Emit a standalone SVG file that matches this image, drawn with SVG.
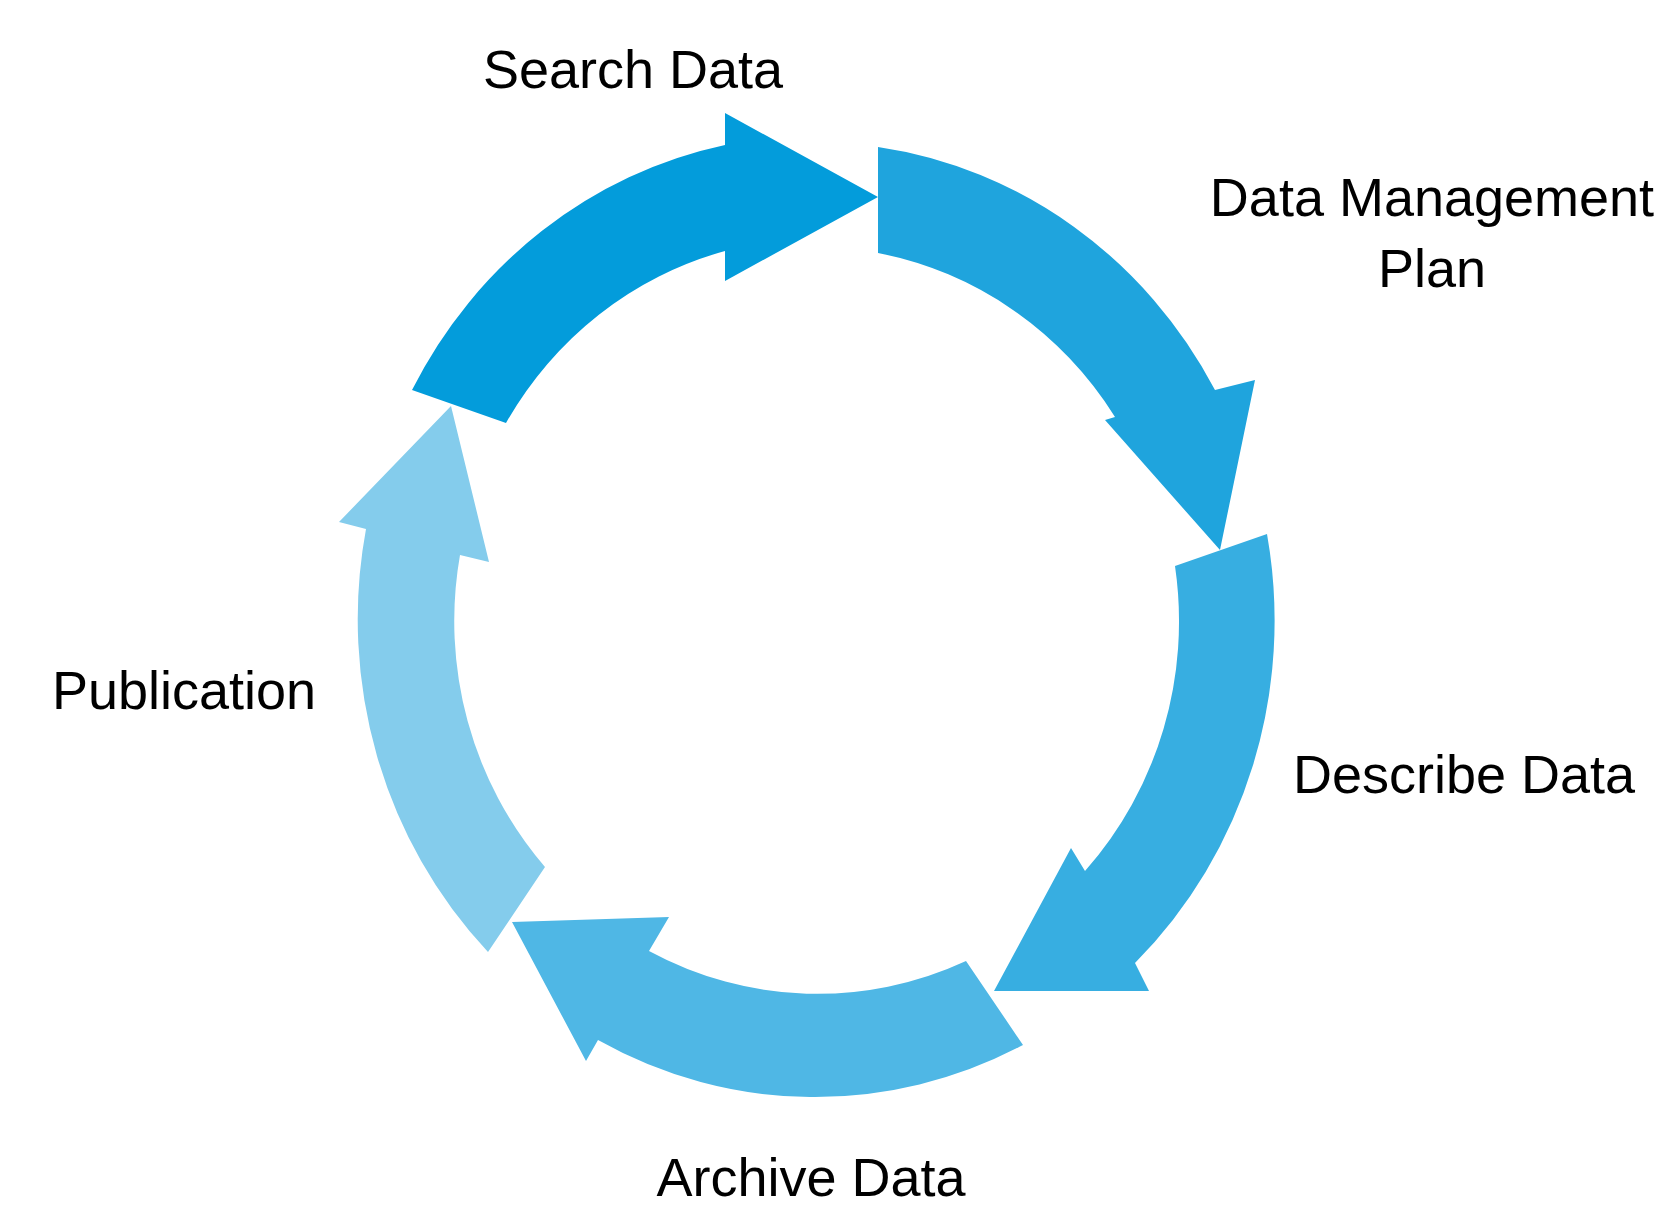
<svg xmlns="http://www.w3.org/2000/svg" width="1666" height="1208" viewBox="0 0 1666 1208">
  <style>
    .lbl { font-family: "Liberation Sans", Arial, sans-serif; font-size: 54px; fill: #000000; text-anchor: middle; }
  </style>
  <rect x="0" y="0" width="1666" height="1208" fill="#ffffff"/>
  <g id="connectors">
    <path id="arrow-search" fill="#039CDB" d="M412,390 A457,476 0 0 1 725,145 L725,113 L878,197 L725,281 L725,251 A361,371 0 0 0 506,423 Z"/>
    <path id="arrow-dmp" fill="#1FA4DD" d="M878,147 A457,476 0 0 1 1215,390 L1255,380 L1220,550 L1105,420 L1115,417 A361,371 0 0 0 878,253 Z"/>
    <path id="arrow-describe" fill="#37AEE1" d="M1267,534 A457,476 0 0 1 1135,963 L1149,991 L994,991 L1071,848 L1085,871 A361,371 0 0 0 1175,566 Z"/>
    <path id="arrow-archive" fill="#4FB7E5" d="M1023,1045 A457,476 0 0 1 598,1040 L586,1061 L512,922 L669,917 L649,951 A361,371 0 0 0 966,961 Z"/>
    <path id="arrow-publication" fill="#84CCEC" d="M488,952 A457,476 0 0 1 366,529 L339,522 L451,406 L489,562 L460,555 A361,371 0 0 0 545,867 Z"/>
  </g>
  <g id="node-search">
    <text class="lbl" x="633" y="88">Search Data</text>
  </g>
  <g id="node-dmp">
    <text class="lbl" x="1432" y="216">Data Management</text>
    <text class="lbl" x="1432" y="287">Plan</text>
  </g>
  <g id="node-describe">
    <text class="lbl" x="1464" y="793">Describe Data</text>
  </g>
  <g id="node-archive">
    <text class="lbl" x="811" y="1196">Archive Data</text>
  </g>
  <g id="node-publication">
    <text class="lbl" x="184" y="709">Publication</text>
  </g>
</svg>
